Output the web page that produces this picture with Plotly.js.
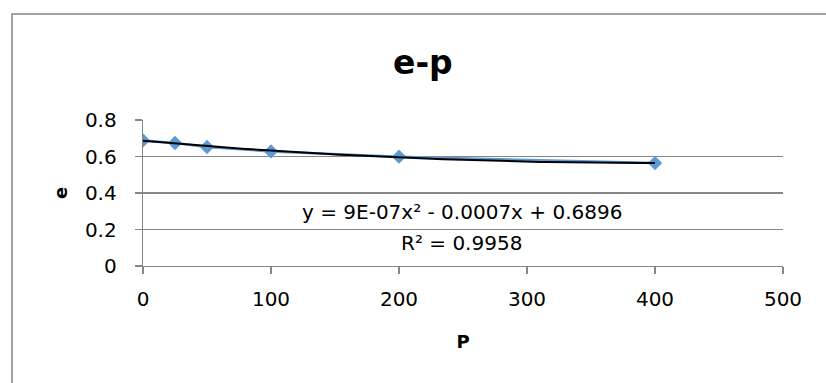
<!DOCTYPE html>
<html>
<head>
<meta charset="utf-8">
<script src="https://cdn.plot.ly/plotly-3.0.1.min.js"></script>
<style>
  html, body { margin: 0; padding: 0; background: #fff; }
  #chart { width: 826px; height: 383px; }
</style>
</head>
<body>
<div id="chart"></div>
<script>
// Load P (x) and void ratio e (y)
const pValues = [0, 25, 50, 100, 200, 400];
const eValues = [0.688, 0.674, 0.652, 0.628, 0.599, 0.564];

const xTicks = [0, 100, 200, 300, 400, 500];
const yTicks = [0, 0.2, 0.4, 0.6, 0.8];

const equationText = 'y = 9E-07x² - 0.0007x + 0.6896';
const r2Text = 'R² = 0.9958';

// Second-order polynomial least-squares fit of the series (trendline)
function polyFit2(xs, ys) {
  let s = [0, 0, 0, 0, 0], t = [0, 0, 0];
  for (let i = 0; i < xs.length; i++) {
    let p = 1;
    for (let k = 0; k < 5; k++) { s[k] += p; if (k < 3) t[k] += p * ys[i]; p *= xs[i]; }
  }
  const A = [[s[0], s[1], s[2], t[0]], [s[1], s[2], s[3], t[1]], [s[2], s[3], s[4], t[2]]];
  for (let c = 0; c < 3; c++) {
    for (let r = c + 1; r < 3; r++) {
      const f = A[r][c] / A[c][c];
      for (let k = c; k < 4; k++) A[r][k] -= f * A[c][k];
    }
  }
  const sol = [0, 0, 0];
  for (let r = 2; r >= 0; r--) {
    let v = A[r][3];
    for (let k = r + 1; k < 3; k++) v -= A[r][k] * sol[k];
    sol[r] = v / A[r][r];
  }
  return sol; // [c, b, a]
}
const coef = polyFit2(pValues, eValues);
const xMin = Math.min(...pValues), xMax = Math.max(...pValues);
const trendX = [], trendY = [];
for (let i = 0; i <= 80; i++) {
  const x = xMin + (xMax - xMin) * i / 80;
  trendX.push(x);
  trendY.push(coef[0] + coef[1] * x + coef[2] * x * x);
}

const FONT = '"DejaVu Sans", "Open Sans", sans-serif';
const GRID = '#868686';

const traces = [
  {
    x: pValues, y: eValues, type: 'scatter', mode: 'lines+markers',
    line: { color: '#5B9BD5', width: 2.5 },
    marker: { symbol: 'diamond', size: 11, color: '#5B9BD5' },
    hoverinfo: 'x+y', showlegend: false
  },
  {
    x: trendX, y: trendY, type: 'scatter', mode: 'lines',
    line: { color: '#000000', width: 2 },
    hoverinfo: 'skip', showlegend: false
  }
];

const layout = {
  width: 826, height: 383,
  margin: { l: 143, r: 43, t: 120, b: 117, pad: 0 },
  paper_bgcolor: '#ffffff', plot_bgcolor: '#ffffff',
  font: { family: FONT, size: 20, color: '#000' },
  title: {
    text: '<b>e-p</b>',
    font: { family: FONT, size: 33, color: '#000' },
    xref: 'container', yref: 'container',
    x: 0.512, xanchor: 'center', y: 0.837, yanchor: 'middle'
  },
  xaxis: {
    range: [0, 500], tickvals: xTicks, ticktext: xTicks.map(String),
    showgrid: false, zeroline: false,
    showline: true, linecolor: GRID, linewidth: 1.3,
    ticks: 'outside', ticklen: 7, tickcolor: GRID, tickwidth: 1.3,
    ticklabelstandoff: 8,
    tickfont: { family: FONT, size: 20, color: '#000' },
    title: { text: '<b>P</b>', font: { family: FONT, size: 18, color: '#000' }, standoff: 25 }
  },
  yaxis: {
    range: [0, 0.8], tickvals: yTicks, ticktext: yTicks.map(String),
    showgrid: true, gridcolor: GRID, gridwidth: 1.3, zeroline: false,
    showline: true, linecolor: GRID, linewidth: 1.3,
    ticks: 'outside', ticklen: 7, tickcolor: GRID, tickwidth: 1.3,
    ticklabelstandoff: 14,
    tickfont: { family: FONT, size: 20, color: '#000' },
    title: { text: '<b>e</b>', font: { family: FONT, size: 18, color: '#000' }, standoff: 12 }
  },
  shapes: [
    // chart-area frame
    {
      type: 'rect', xref: 'paper', yref: 'paper',
      x0: (12 - 143) / 640, x1: (840 - 143) / 640,
      y0: (266 - 400) / 146, y1: (266 - 14) / 146,
      line: { color: GRID, width: 1.5 }, fillcolor: 'rgba(0,0,0,0)', layer: 'below'
    }
  ],
  annotations: [
    {
      text: equationText, xref: 'paper', yref: 'y', x: 0.498, y: 0.296,
      xanchor: 'center', yanchor: 'middle', showarrow: false,
      font: { family: FONT, size: 20, color: '#000' }
    },
    {
      text: r2Text, xref: 'paper', yref: 'y', x: 0.498, y: 0.126,
      xanchor: 'center', yanchor: 'middle', showarrow: false,
      font: { family: FONT, size: 20, color: '#000' }
    }
  ]
};

Plotly.newPlot('chart', traces, layout, { staticPlot: true, displayModeBar: false });
</script>
</body>
</html>
